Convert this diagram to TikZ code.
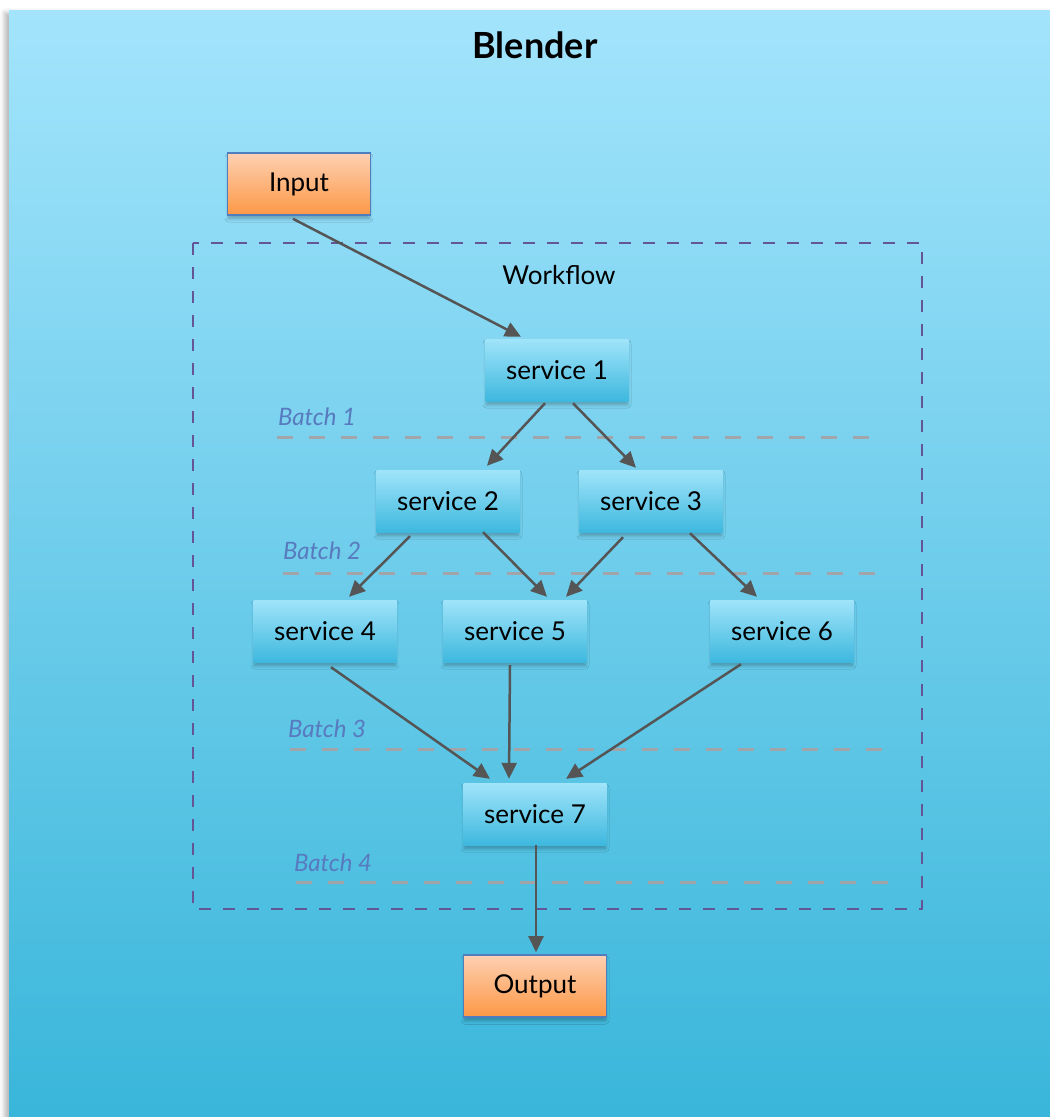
\documentclass[tikz,border=0pt]{standalone}
\usepackage{fontspec}
\setmainfont{Lato}
\usetikzlibrary{arrows.meta,shadows.blur}

\definecolor{bgtop}{RGB}{163,228,252}
\definecolor{bgbot}{RGB}{57,182,218}
\definecolor{svctop}{RGB}{160,228,250}
\definecolor{svcbot}{RGB}{62,184,222}
\definecolor{iotop}{RGB}{253,208,178}
\definecolor{iobot}{RGB}{253,152,70}
\definecolor{ioborder}{RGB}{80,125,190}
\definecolor{flowline}{RGB}{100,86,150}
\definecolor{batchline}{RGB}{162,164,168}
\definecolor{batchtext}{RGB}{88,122,190}
\definecolor{arrowcol}{RGB}{85,85,85}

\tikzset{
  boxshadow/.style={blur shadow={shadow xshift=0pt, shadow yshift=-4pt,
      shadow blur radius=4pt, shadow blur steps=8, shadow opacity=30,
      shadow scale=0.98}},
  svc/.style={minimum width=143pt, minimum height=62pt, inner sep=0pt,
      top color=svctop, bottom color=svcbot, draw=none,
      font=\fontsize{26}{30}\selectfont, boxshadow},
  io/.style={svc, top color=iotop, bottom color=iobot,
      draw=ioborder, line width=1.6pt},
  batchlabel/.style={font=\fontsize{24}{28}\selectfont\itshape,
      text=batchtext, inner sep=0pt},
  batchsep/.style={draw=batchline, line width=3pt,
      dash pattern=on 16pt off 16pt},
  flow/.style={draw=arrowcol, line width=2.5pt,
      -{Triangle[length=16pt,width=15pt]}},
}

\begin{document}
\begin{tikzpicture}[x=1pt,y=-1pt]
\useasboundingbox (0,0) rectangle (1050,1117);

% backdrop panel
\path[top color=bgtop, bottom color=bgbot,
      blur shadow={shadow xshift=-4pt, shadow yshift=-3pt,
        shadow blur radius=5pt, shadow opacity=30}]
  (9,10) rectangle (1050,1117);

\node[font=\fontsize{36}{40}\selectfont\bfseries] (title) at (535,45) {Blender};

% workflow frame
\draw[flowline, line width=2pt, dash pattern=on 12pt off 12pt]
  (193,243) rectangle (922,909);
\node[font=\fontsize{26}{30}\selectfont] (wf) at (559,275) {Workflow};

% batch separators
\node[batchlabel] (b1) at (317,417) {Batch 1};
\node[batchlabel] (b2) at (322,551) {Batch 2};
\node[batchlabel] (b3) at (327,729) {Batch 3};
\node[batchlabel] (b4) at (333,863) {Batch 4};
\coordinate (b1l) at (277,437); \coordinate (b1r) at (870,437);
\coordinate (b2l) at (283,573); \coordinate (b2r) at (876,573);
\coordinate (b3l) at (290,749); \coordinate (b3r) at (882,749);
\coordinate (b4l) at (296,882); \coordinate (b4r) at (888,882);
\draw[batchsep] (b1l) -- (b1r);
\draw[batchsep] (b2l) -- (b2r);
\draw[batchsep] (b3l) -- (b3r);
\draw[batchsep] (b4l) -- (b4r);

% nodes
\node[io]  (in)  at (299,184) {Input};
\node[svc] (s1)  at (557,370) {service 1};
\node[svc] (s2)  at (448,501) {service 2};
\node[svc] (s3)  at (651,501) {service 3};
\node[svc] (s4)  at (325,631) {service 4};
\node[svc] (s5)  at (515,631) {service 5};
\node[svc] (s6)  at (782,631) {service 6};
\node[svc] (s7)  at (535,814) {service 7};
\node[io]  (out) at (535,986) {Output};

% connectors
\draw[flow] ([xshift=-6pt,yshift=-3pt]in.south) -- ([xshift=-36pt,yshift=2pt]s1.north);
\draw[flow] ([xshift=-12pt,yshift=-2pt]s1.south) -- ([xshift=39pt,yshift=4pt]s2.north);
\draw[flow] ([xshift=16pt,yshift=-2pt]s1.south) -- ([xshift=-15pt,yshift=2pt]s3.north);
\draw[flow] ([xshift=-38pt,yshift=-4pt]s2.south) -- ([xshift=24pt,yshift=3pt]s4.north);
\draw[flow] ([xshift=35pt,yshift=0pt]s2.south) -- ([xshift=32pt,yshift=3pt]s5.north);
\draw[flow] ([xshift=-28pt,yshift=-5pt]s3.south) -- ([xshift=51pt,yshift=3pt]s5.north);
\draw[flow] ([xshift=39pt,yshift=-1pt]s3.south) -- ([xshift=-25pt,yshift=3pt]s6.north);
\draw[flow] ([xshift=6pt,yshift=-5pt]s4.south) -- ([xshift=-45pt,yshift=4pt]s7.north);
\draw[flow] ([xshift=-5pt,yshift=-3pt]s5.south) -- ([xshift=-26pt,yshift=4pt]s7.north);
\draw[flow] ([xshift=-41pt,yshift=-2pt]s6.south) -- ([xshift=31pt,yshift=4pt]s7.north);
\draw[flow] ([xshift=1pt,yshift=0pt]s7.south) -- ([xshift=1pt,yshift=2pt]out.north);
\end{tikzpicture}
\end{document}
